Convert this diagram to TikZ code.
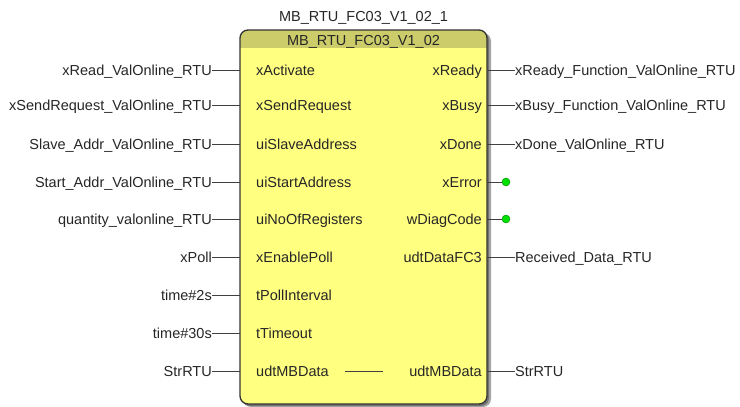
\documentclass[tikz,border=0pt]{standalone}
\usepackage{fontspec}
\setmainfont{Liberation Sans}
\definecolor{body}{HTML}{FFFF80}
\definecolor{head}{HTML}{CCCC6A}
\definecolor{wire}{HTML}{404040}
\definecolor{dotg}{HTML}{00E000}
\begin{document}
\begin{tikzpicture}[x=1pt,y=-1pt,
  lbl/.style={font=\fontsize{14.5}{16}\selectfont, inner sep=0pt, text=black!85, text height=12pt, text depth=2pt},
  wireline/.style={draw=wire, line width=0.9pt},
  gdot/.style={circle, fill=dotg, draw=green!50!black, line width=0.4pt, minimum size=8pt, inner sep=0pt}]
\useasboundingbox (0,0) rectangle (740,407);
% shadow
\fill[black!35, rounded corners=8pt] (243,33) rectangle (491,407);
\fill[black!55, rounded corners=8pt] (242,32) rectangle (489,406);
% body
\fill[body, rounded corners=8pt] (240,30) rectangle (487,404);
\begin{scope}
\clip[rounded corners=8pt] (240,30) rectangle (487,404);
\fill[head] (240,30) rectangle (487,48);
\end{scope}
\draw[black!80, line width=1.3pt, rounded corners=8pt] (240,30) rectangle (487,404);
\node[lbl] (inst) at (363.5,16) {MB\_RTU\_FC03\_V1\_02\_1};
\node[lbl] (type) at (363.5,40) {MB\_RTU\_FC03\_V1\_02};
% rows
\foreach \y/\ext/\pin [count=\i] in {
  70/xRead\_ValOnline\_RTU/xActivate,
  105/xSendRequest\_ValOnline\_RTU/xSendRequest,
  144/Slave\_Addr\_ValOnline\_RTU/uiSlaveAddress,
  182/Start\_Addr\_ValOnline\_RTU/uiStartAddress,
  219/quantity\_valonline\_RTU/uiNoOfRegisters,
  257/xPoll/xEnablePoll,
  295/time\#2s/tPollInterval,
  333/time\#30s/tTimeout,
  371/StrRTU/udtMBData}{
  \node[lbl, anchor=west] (ip\i) at (256,\y) {\pin};
  \node[lbl, anchor=east] (ie\i) at (212,\y) {\ext};
  \coordinate (ib\i) at (240,\y);
  \draw[wireline] (ie\i.east) -- (ib\i);
}
\foreach \y/\ext/\pin [count=\i] in {
  70/xReady\_Function\_ValOnline\_RTU/xReady,
  105/xBusy\_Function\_ValOnline\_RTU/xBusy,
  144/xDone\_ValOnline\_RTU/xDone,
  257/Received\_Data\_RTU/udtDataFC3,
  371/StrRTU/udtMBData}{
  \node[lbl, anchor=east] (op\i) at (482,\y) {\pin};
  \node[lbl, anchor=west] (oe\i) at (515,\y) {\ext};
  \coordinate (ob\i) at (487,\y);
  \draw[wireline] (ob\i) -- (oe\i.west);
}
\node[lbl, anchor=east] (xerr) at (482,182) {xError};
\node[lbl, anchor=east] (wdiag) at (482,219) {wDiagCode};
\coordinate (eb1) at (487,182);
\coordinate (eb2) at (487,219);
\node[gdot] (g1) at (506,182) {};
\node[gdot] (g2) at (506,219) {};
\draw[wireline] (eb1) -- (g1);
\draw[wireline] (eb2) -- (g2);
% pass-through line
\coordinate (m1) at (345,371);
\coordinate (m2) at (383,371);
\draw[wireline] (m1) -- (m2);
\end{tikzpicture}
\end{document}
